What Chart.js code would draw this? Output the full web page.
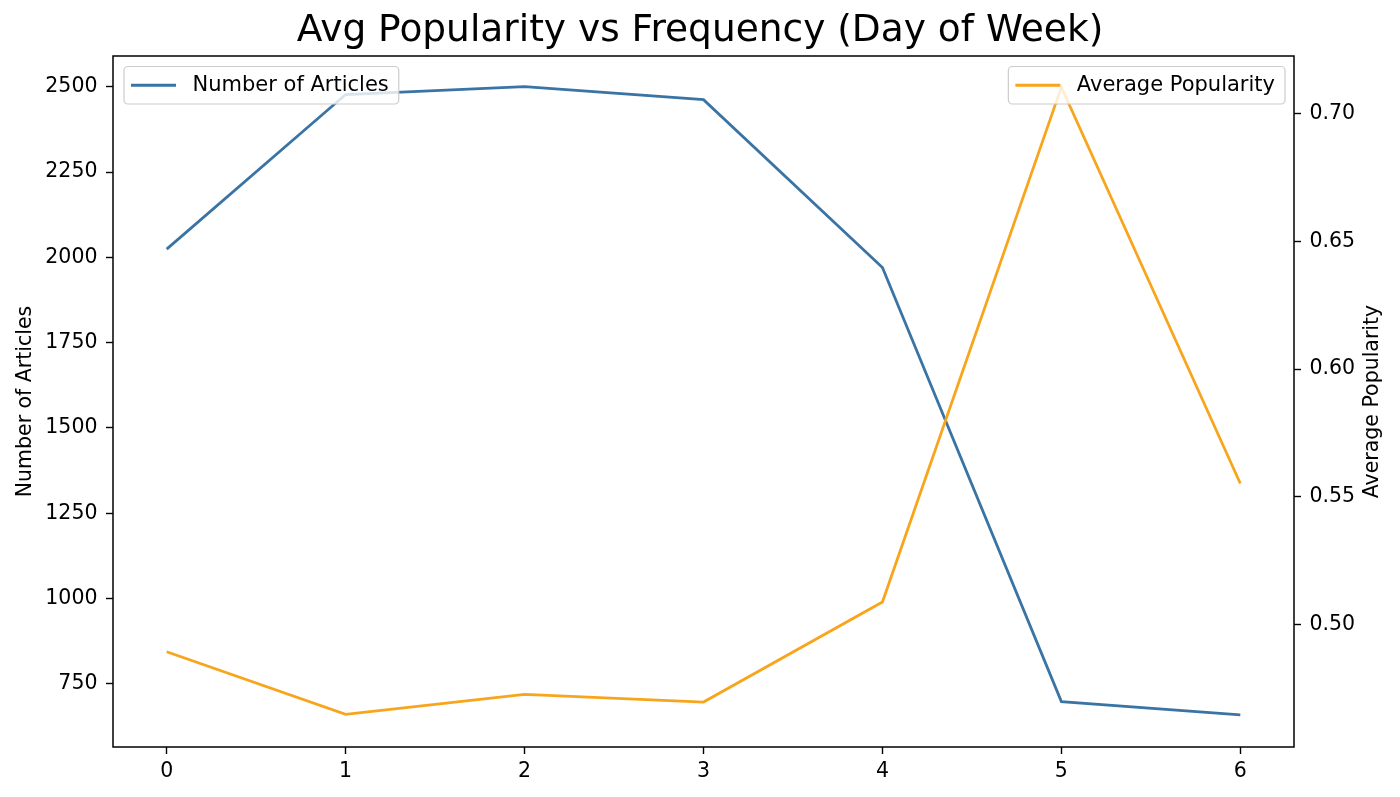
<!DOCTYPE html>
<html><head><meta charset="utf-8">
<script src="https://cdn.jsdelivr.net/npm/chart.js@4.4.1/dist/chart.umd.min.js"></script>
<style>html,body{margin:0;padding:0;background:#fff;}#wrap{width:1400px;height:797px;}</style>
</head><body><div id="wrap"><canvas id="c" width="1400" height="797"></canvas></div>
<script>
const days = [0, 1, 2, 3, 4, 5, 6];
const numArticles = [2024, 2477, 2500, 2462, 1970, 698, 659];
const avgPopularity = [0.4893, 0.4648, 0.4726, 0.4696, 0.5088, 0.7104, 0.5552];
const leftTicks = [750, 1000, 1250, 1500, 1750, 2000, 2250, 2500];
const rightTicks = [0.50, 0.55, 0.60, 0.65, 0.70];
const xTicks = days;
const titleText = 'Avg Popularity vs Frequency (Day of Week)';
const leftLabel = 'Number of Articles';
const rightLabel = 'Average Popularity';

const BLUE = '#3a74a5';
const ORANGE = '#f8a51c';
const FONT = 'DejaVu Sans';
const small = {family: FONT, size: 20.5};

const tickGrid = {display: true, drawOnChartArea: false, drawTicks: true, tickLength: 7, tickColor: '#000', tickWidth: 1.4};

const framePlugin = {
  id: 'frameAndLegends',
  afterDraw(chart) {
    const ctx = chart.ctx;
    const a = chart.chartArea;
    ctx.save();
    // right axis title, reading bottom-to-top
    ctx.font = '20.5px "' + FONT + '"';
    ctx.fillStyle = '#000';
    ctx.textAlign = 'center';
    ctx.textBaseline = 'middle';
    ctx.translate(1373, (a.top + a.bottom) / 2);
    ctx.rotate(-Math.PI / 2);
    ctx.fillText(rightLabel, 0, 0);
    ctx.restore();
  },
  afterDatasetsDraw(chart) {
    const ctx = chart.ctx;
    const a = chart.chartArea;
    ctx.save();
    ctx.strokeStyle = '#000';
    ctx.lineWidth = 1.5;
    ctx.strokeRect(a.left, a.top, a.right - a.left, a.bottom - a.top);

    ctx.font = '21px "' + FONT + '"';
    ctx.textBaseline = 'middle';
    const drawLegend = (label, color, side) => {
      const tw = ctx.measureText(label).width;
      const w = 7 + 45 + 16.5 + tw + 10;
      const h = 37.5;
      const x = side === 'left' ? a.left + 11 : a.right - 9 - w;
      const y = a.top + 10.5;
      ctx.beginPath();
      if (ctx.roundRect) ctx.roundRect(x, y, w, h, 4); else ctx.rect(x, y, w, h);
      ctx.fillStyle = 'rgba(255,255,255,0.8)';
      ctx.fill();
      ctx.strokeStyle = '#cccccc';
      ctx.lineWidth = 1.2;
      ctx.stroke();
      ctx.beginPath();
      ctx.moveTo(x + 7, y + h / 2);
      ctx.lineTo(x + 52, y + h / 2);
      ctx.strokeStyle = color;
      ctx.lineWidth = 2.8;
      ctx.stroke();
      ctx.fillStyle = '#000';
      ctx.textAlign = 'left';
      ctx.fillText(label, x + 68.5, y + h / 2);
    };
    drawLegend(leftLabel, BLUE, 'left');
    drawLegend(rightLabel, ORANGE, 'right');
    ctx.restore();
  }
};

new Chart(document.getElementById('c'), {
  type: 'line',
  data: {
    datasets: [
      {label: leftLabel, data: days.map((d, i) => ({x: d, y: numArticles[i]})), yAxisID: 'y', borderColor: BLUE, borderWidth: 2.8, pointRadius: 0, tension: 0, fill: false, order: 1},
      {label: rightLabel, data: days.map((d, i) => ({x: d, y: avgPopularity[i]})), yAxisID: 'y1', borderColor: ORANGE, borderWidth: 2.8, pointRadius: 0, tension: 0, fill: false, order: 0}
    ]
  },
  options: {
    responsive: false,
    animation: false,
    devicePixelRatio: 1,
    layout: {padding: 0},
    plugins: {
      legend: {display: false},
      tooltip: {enabled: false},
      title: {display: true, text: titleText, color: '#000', font: {family: FONT, size: 37.5, weight: 'normal'}, padding: {top: 8.5, bottom: 2.5}}
    },
    scales: {
      x: {
        type: 'linear', position: 'bottom', min: -0.3, max: 6.3,
        afterBuildTicks: s => { s.ticks = xTicks.map(v => ({value: v})); },
        afterFit: s => { s.height = 50; },
        ticks: {color: '#000', font: small, padding: 5, maxRotation: 0, callback: v => String(v)},
        grid: tickGrid, border: {display: false}
      },
      y: {
        type: 'linear', position: 'left', min: 565, max: 2590,
        afterBuildTicks: s => { s.ticks = leftTicks.map(v => ({value: v})); },
        afterFit: s => { s.width = 113; },
        ticks: {color: '#000', font: small, padding: 8.5, callback: v => String(v)},
        grid: tickGrid, border: {display: false},
        title: {display: true, text: leftLabel, color: '#000', font: small, padding: {top: 13.5, bottom: 0}}
      },
      y1: {
        type: 'linear', position: 'right', min: 0.452, max: 0.7226,
        afterBuildTicks: s => { s.ticks = rightTicks.map(v => ({value: v})); },
        afterFit: s => { s.width = 106; },
        ticks: {color: '#000', font: small, padding: 8.5, callback: v => Number(v).toFixed(2)},
        grid: tickGrid, border: {display: false}
      }
    }
  },
  plugins: [framePlugin]
});
</script>
</body></html>
